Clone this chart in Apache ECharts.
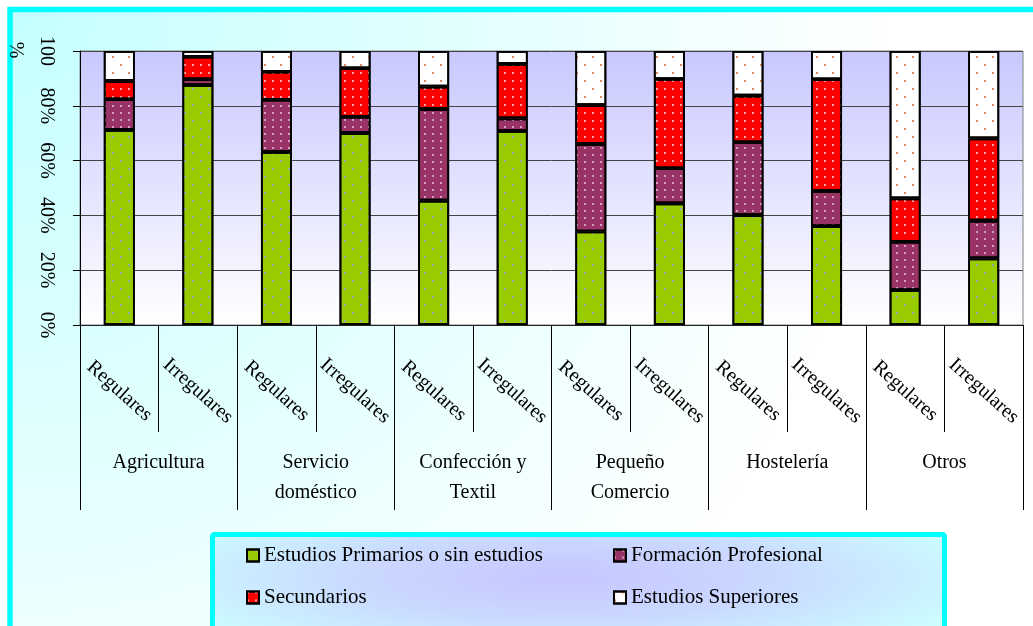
<!DOCTYPE html>
<html>
<head>
<meta charset="utf-8">
<script src="https://cdn.jsdelivr.net/npm/echarts@6/dist/echarts.min.js"></script>
<style>
  html, body { margin: 0; padding: 0; background: #ffffff; }
  #chart { width: 1033px; height: 626px; }
</style>
</head>
<body>
<div id="chart"></div>
<script>
// Sectors and worker status
const sectors = ['Agricultura', 'Servicio\ndoméstico', 'Confección y\nTextil', 'Pequeño\nComercio', 'Hostelería', 'Otros'];
const statuses = ['Regulares', 'Irregulares'];
const yTickLabels = ['0%', '20%', '40%', '60%', '80%', '100'];

// Share of each education level (%) per sector/status column
const primarios   = [71.2, 87.6, 63.2, 70.1, 45.4, 70.8, 34.1, 44.4, 40.1, 36.1, 12.8, 24.3];
const formacion   = [11.2,  2.1, 19.0,  5.9, 33.4,  4.6, 32.0, 12.8, 26.6, 12.8, 17.6, 13.8];
const secundarios = [ 6.7,  8.2, 10.2, 17.7,  8.2, 19.9, 14.2, 32.6, 17.0, 40.8, 15.8, 30.0];
const superiores  = [10.9,  2.1,  7.6,  6.3, 13.0,  4.7, 19.7, 10.2, 16.3, 10.3, 53.8, 31.9];

const seriesNames = ['Estudios Primarios o sin estudios', 'Formación Profesional', 'Secundarios', 'Estudios Superiores'];

// One column per status inside every sector
const columns = [];
sectors.forEach(function () { statuses.forEach(function (s) { columns.push(s); }); });

const FONT = 'Liberation Serif, Times New Roman, serif';

// Dotted fills
const staggered = function (color) {
  return { symbol: 'circle', symbolSize: 1, color: color,
           dashArrayX: [[2, 14], [0, 8, 2, 6]], dashArrayY: [2, 5.7] };
};
const gridDots = function (color, dy) {
  return { symbol: 'circle', symbolSize: 1, color: color,
           dashArrayX: [2, 6], dashArrayY: [2, dy] };
};

const styles = [
  { color: '#99cc00', decal: staggered('#9a9af0') },
  { color: '#993366', decal: gridDots('#e6c6e6', 4.5) },
  { color: '#ff0000', decal: gridDots('#ffd0d0', 6) },
  { color: '#ffffff', decal: staggered('#cc6633') }
];
const values = [primarios, formacion, secundarios, superiores];

const series = seriesNames.map(function (name, i) {
  return {
    name: name,
    type: 'bar',
    stack: 'total',
    xAxisIndex: 0,
    barWidth: 31,
    data: values[i],
    itemStyle: {
      color: styles[i].color,
      borderColor: '#000000',
      borderWidth: 1.8,
      decal: styles[i].decal
    },
    emphasis: { disabled: true }
  };
});

const legendText = { fontFamily: FONT, fontSize: 21, color: '#000000' };
const legendBase = {
  orient: 'vertical', itemWidth: 12, itemHeight: 12, itemGap: 21,
  icon: 'rect', textStyle: legendText, selectedMode: false, padding: 0
};

const chart = echarts.init(document.getElementById('chart'), null, { renderer: 'canvas' });

chart.setOption({
  animation: false,
  backgroundColor: '#ffffff',
  graphic: [
    {
      type: 'rect', z: -20, silent: true,
      shape: { x: 10, y: 9.5, width: 1100, height: 800 },
      style: {
        fill: new echarts.graphic.RadialGradient(0, 0, 900, [
          { offset: 0, color: '#c4ffff' },
          { offset: 1, color: '#ffffff' }
        ], true),
        stroke: '#00ffff', lineWidth: 5.5
      }
    },
    {
      // legend panel fill, stretched into a wide ellipse
      type: 'rect', z: -15, silent: true,
      x: 0, y: 578, scaleY: 0.2,
      shape: { x: 212, y: -215, width: 735, height: 725 },
      style: {
        fill: new echarts.graphic.RadialGradient(0.48, 0.297, 0.62, [
          { offset: 0, color: '#c6c6ff' },
          { offset: 0.45, color: '#cad8ff' },
          { offset: 1, color: '#ccffff' }
        ])
      }
    },
    {
      type: 'rect', z: -14, silent: true,
      shape: { x: 212.5, y: 534.5, width: 732, height: 200, r: 2 },
      style: { fill: 'none', stroke: '#00ffff', lineWidth: 5 }
    },
    {
      type: 'text', silent: true,
      x: 15, y: 50, rotation: -Math.PI / 2,
      style: { text: '%', font: '20px ' + FONT, fill: '#000000', align: 'center', verticalAlign: 'middle' }
    }
  ],
  grid: {
    left: 80, right: 10, top: 51, bottom: 301,
    show: true,
    borderColor: '#808080', borderWidth: 1,
    backgroundColor: {
      type: 'linear', x: 0, y: 0, x2: 0, y2: 1,
      colorStops: [{ offset: 0, color: '#c8c8ff' }, { offset: 1, color: '#ffffff' }]
    }
  },
  legend: [
    Object.assign({ left: 246, top: 545, data: [seriesNames[0], seriesNames[2]] }, legendBase),
    Object.assign({ left: 613, top: 545, data: [seriesNames[1], seriesNames[3]] }, legendBase)
  ],
  xAxis: [
    {
      type: 'category', position: 'bottom', data: columns,
      axisLine: { lineStyle: { color: '#222222', width: 1 } },
      axisTick: { show: true, length: 107, alignWithLabel: false, lineStyle: { color: '#000000' } },
      axisLabel: {
        interval: 0, rotate: -42, align: 'center', verticalAlign: 'middle', margin: 66,
        fontFamily: FONT, fontSize: 20, color: '#000000'
      },
      splitLine: { show: false }
    },
    {
      type: 'category', position: 'bottom', data: sectors,
      axisLine: { show: false },
      axisTick: { show: true, length: 185, alignWithLabel: false, lineStyle: { color: '#000000' } },
      axisLabel: {
        interval: 0, margin: 123, verticalAlign: 'top', lineHeight: 30,
        fontFamily: FONT, fontSize: 20, color: '#000000'
      },
      splitLine: { show: false }
    }
  ],
  yAxis: {
    type: 'value', min: 0, max: 100, interval: 20,
    axisLine: { show: true, lineStyle: { color: '#000000', width: 1 } },
    axisTick: { show: true, length: 7, lineStyle: { color: '#000000' } },
    splitLine: { show: true, lineStyle: { color: '#444444', width: 1 } },
    axisLabel: {
      rotate: -90, align: 'center', verticalAlign: 'middle', margin: 34,
      fontFamily: FONT, fontSize: 20, color: '#000000',
      formatter: function (v) { return yTickLabels[Math.round(v / 20)]; }
    }
  },
  series: series
});
</script>
</body>
</html>
